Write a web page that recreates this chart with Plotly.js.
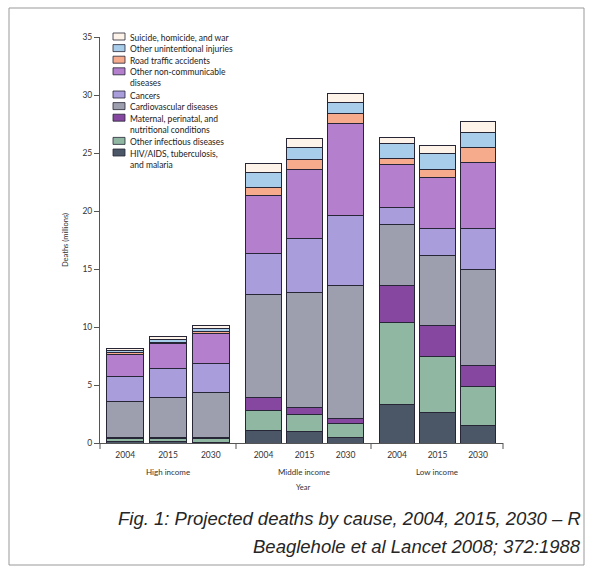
<!DOCTYPE html>
<html>
<head>
<meta charset="utf-8">
<script src="https://cdn.plot.ly/plotly-3.0.1.min.js"></script>
<style>html,body{margin:0;padding:0;background:#fff;}#chart{width:593px;height:572px;}</style>
</head>
<body>
<div id="chart"></div>
<script>
// Categories
const groups = ["High income", "Middle income", "Low income"];
const years = ["2004", "2015", "2030"];

// Series values (millions), order: High 2004, 2015, 2030, Middle 2004, 2015, 2030, Low 2004, 2015, 2030
const hivTbMalaria   = [0.10, 0.10, 0.05, 1.12, 1.03, 0.46, 3.33, 2.67, 1.55];
const otherInfect    = [0.30, 0.30, 0.35, 1.72, 1.44, 1.18, 7.07, 4.77, 3.30];
const maternal       = [0.10, 0.10, 0.10, 1.06, 0.58, 0.48, 3.16, 2.73, 1.82];
const cardiovascular = [3.05, 3.45, 3.85, 8.86, 9.91, 11.50, 5.29, 6.03, 8.33];
const cancers        = [2.20, 2.45, 2.50, 3.59, 4.64, 6.03, 1.45, 2.25, 3.45];
const otherNCD       = [1.90, 2.20, 2.63, 4.95, 6.00, 7.90, 3.72, 4.45, 5.75];
const roadTraffic    = [0.12, 0.10, 0.10, 0.70, 0.85, 0.87, 0.52, 0.70, 1.26];
const otherUnint     = [0.23, 0.20, 0.30, 1.30, 1.01, 0.92, 1.24, 1.34, 1.32];
const suicideWar     = [0.18, 0.24, 0.26, 0.80, 0.80, 0.80, 0.57, 0.69, 0.92];

const series = [
  {name: "HIV/AIDS, tuberculosis,<br>and malaria", values: hivTbMalaria, color: "#4b5666"},
  {name: "Other infectious diseases", values: otherInfect, color: "#8fb7a2"},
  {name: "Maternal, perinatal, and<br>nutritional conditions", values: maternal, color: "#8647a0"},
  {name: "Cardiovascular diseases", values: cardiovascular, color: "#9d9fae"},
  {name: "Cancers", values: cancers, color: "#a99ddb"},
  {name: "Other non-communicable<br>diseases", values: otherNCD, color: "#b47fcc"},
  {name: "Road traffic accidents", values: roadTraffic, color: "#f6ab8c"},
  {name: "Other unintentional injuries", values: otherUnint, color: "#a7cdea"},
  {name: "Suicide, homicide, and war", values: suicideWar, color: "#fdf3e8"}
];

// Layout geometry helpers (pixel -> paper)
const L = 100, R = 503, T = 37, B = 443;
const px = v => (v - L) / (R - L);
const py = v => (B - v) / (B - T);

const domains = [[0, px(236)], [px(236), px(371)], [px(371), 1]];
const ranges = [[-0.59, 2.59], [-0.671, 2.62], [-0.642, 2.617]];
const axisNames = ["x", "x2", "x3"];

const FONT = "Lato, 'Open Sans', sans-serif";
const traces = [];
series.forEach(s => {
  groups.forEach((g, gi) => {
    traces.push({
      type: "bar",
      name: s.name,
      x: years,
      y: s.values.slice(gi * 3, gi * 3 + 3),
      xaxis: axisNames[gi],
      yaxis: "y",
      marker: {color: s.color, line: {color: "#262636", width: 1}},
      showlegend: false,
      hovertemplate: g + " %{x}: %{y}<extra>" + s.name.replace("<br>", " ") + "</extra>"
    });
  });
});

const layout = {
  width: 593, height: 572,
  margin: {l: L, r: 593 - R, t: T, b: 572 - B},
  paper_bgcolor: "#ffffff",
  plot_bgcolor: "#ffffff",
  barmode: "stack",
  bargap: 0.13,
  showlegend: false,
  font: {family: FONT, size: 8, color: "#333"},
  yaxis: {
    range: [0, 35], tickvals: [0, 5, 10, 15, 20, 25, 30, 35],
    showgrid: false, zeroline: false, showline: true, linecolor: "#555", linewidth: 1,
    ticks: "outside", ticklen: 5, tickcolor: "#555", tickfont: {size: 8.5, color: "#333"},
    title: {text: "Deaths (millions)", font: {size: 7.5, color: "#333"}, standoff: 12},
    anchor: "x"
  },
  shapes: [],
  annotations: []
};

axisNames.forEach((a, i) => {
  const key = i === 0 ? "xaxis" : "xaxis" + (i + 1);
  layout[key] = {
    type: "category", domain: domains[i], range: ranges[i], anchor: "y",
    showline: true, linecolor: "#555", linewidth: 1, ticks: "", showgrid: false,
    ticklabelstandoff: 4,
    tickfont: {size: 8.5, color: "#333"}, fixedrange: true
  };
  layout.annotations.push({
    xref: "paper", yref: "paper", x: (domains[i][0] + domains[i][1]) / 2, y: py(472),
    text: groups[i], showarrow: false, xanchor: "center", yanchor: "middle",
    font: {size: 8, color: "#333"}
  });
});

// group divider ticks on the x axis
[0, px(236), px(371), 1].forEach(x => {
  layout.shapes.push({type: "line", xref: "paper", yref: "paper", x0: x, x1: x, y0: py(443), y1: py(449),
    line: {color: "#555", width: 1}});
});

// "Year" label
layout.annotations.push({xref: "paper", yref: "paper", x: px(303), y: py(488), text: "Year",
  showarrow: false, font: {size: 7.5, color: "#333"}, xanchor: "center", yanchor: "middle"});

// Manual legend (top to bottom = reversed stack order)
let lineCount = 0;
series.slice().reverse().forEach(s => {
  const yc = 36.5 + 11.6 * lineCount;
  layout.shapes.push({type: "rect", xref: "paper", yref: "paper",
    x0: px(113), x1: px(125), y0: py(yc - 3.5), y1: py(yc + 3.5),
    fillcolor: s.color, line: {color: "#262636", width: 0.8}});
  layout.annotations.push({xref: "paper", yref: "paper", x: px(128), y: py(yc - 6),
    text: s.name, showarrow: false, xanchor: "left", yanchor: "top", align: "left",
    font: {size: 8.5, color: "#222"}});
  lineCount += s.name.split("<br>").length;
});

// Caption
const capFont = {family: "'Liberation Sans Narrow', 'Liberation Sans', Arial, sans-serif", size: 18.5, color: "#262626", style: "italic"};
layout.annotations.push({xref: "paper", yref: "paper", x: px(583), y: py(518), xanchor: "right", yanchor: "middle",
  text: "Fig. 1: Projected deaths by cause, 2004, 2015, 2030 – R", showarrow: false, font: capFont});
layout.annotations.push({xref: "paper", yref: "paper", x: px(583), y: py(546), xanchor: "right", yanchor: "middle",
  text: "Beaglehole et al Lancet 2008; 372:1988", showarrow: false, font: capFont});

// Outer frame
layout.shapes.push({type: "rect", xref: "paper", yref: "paper", layer: "below",
  x0: px(9), x1: px(584), y0: py(565), y1: py(8), line: {color: "#999", width: 1}, fillcolor: "rgba(0,0,0,0)"});

Plotly.newPlot("chart", traces, layout, {displayModeBar: false, staticPlot: true});
</script>
</body>
</html>
